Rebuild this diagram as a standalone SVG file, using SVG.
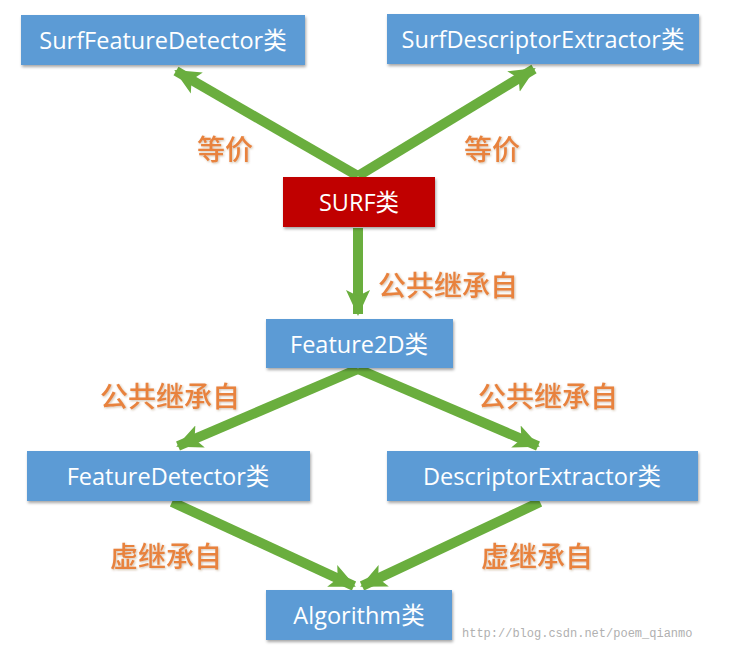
<svg xmlns="http://www.w3.org/2000/svg" width="734" height="664" viewBox="0 0 734 664">
<style>
.box{fill:#5B9BD5;filter:url(#sh)}
.red{fill:#C00000;filter:url(#sh)}
.nt{font-family:"Open Sans","Noto Sans CJK SC",sans-serif;font-size:23.5px;fill:#ffffff;text-anchor:middle;dominant-baseline:central}
.lb{font-family:"Noto Sans CJK SC",sans-serif;font-size:28px;font-weight:500;fill:#E8823E;text-anchor:middle;dominant-baseline:central;filter:url(#ts)}
.ar{stroke:#6AAE3E;stroke-width:10;fill:none;marker-end:url(#ah)}
.wm{font-family:"Liberation Mono",monospace;font-size:12px;fill:#b0b0b0}
</style>
<defs>
<filter id="sh" x="-10%" y="-20%" width="120%" height="150%"><feDropShadow dx="1" dy="2" stdDeviation="1.5" flood-color="#000" flood-opacity="0.35"/></filter>
<filter id="ts" x="-10%" y="-20%" width="120%" height="150%"><feDropShadow dx="1" dy="1" stdDeviation="1" flood-color="#7a4a20" flood-opacity="0.35"/></filter>
<marker id="ah" markerUnits="userSpaceOnUse" markerWidth="30" markerHeight="30" viewBox="0 0 30 30" refX="24" refY="15" orient="auto"><path d="M0,3 L26,15 L0,27 L6,15 Z" fill="#6AAE3E"/></marker>
</defs>
<g id="connectors">
<line class="ar" x1="358" y1="176" x2="176" y2="71"/>
<line class="ar" x1="358" y1="176" x2="534" y2="69"/>
<line class="ar" x1="358" y1="228" x2="358" y2="314"/>
<line class="ar" x1="358" y1="369" x2="178" y2="446"/>
<line class="ar" x1="358" y1="369" x2="538" y2="446"/>
<line class="ar" x1="172" y1="502" x2="354" y2="586"/>
<line class="ar" x1="540" y1="502" x2="362" y2="586"/>
</g>
<g id="n-surffd"><rect class="box" x="21" y="15" width="284" height="50"/><text class="nt" x="163" y="40">SurfFeatureDetector类</text></g>
<g id="n-surfde"><rect class="box" x="387" y="14" width="312" height="50"/><text class="nt" x="543" y="39">SurfDescriptorExtractor类</text></g>
<g id="n-surf"><rect class="red" x="283" y="177" width="152" height="50"/><text class="nt" x="359" y="202">SURF类</text></g>
<g id="n-f2d"><rect class="box" x="266" y="319" width="187" height="49"/><text class="nt" x="359" y="344">Feature2D类</text></g>
<g id="n-fd"><rect class="box" x="27" y="451" width="283" height="50"/><text class="nt" x="168" y="476">FeatureDetector类</text></g>
<g id="n-de"><rect class="box" x="387" y="451" width="311" height="50"/><text class="nt" x="542" y="476">DescriptorExtractor类</text></g>
<g id="n-alg"><rect class="box" x="266" y="590" width="186" height="50"/><text class="nt" x="359" y="615">Algorithm类</text></g>
<g id="labels">
<text class="lb" x="225" y="148">等价</text>
<text class="lb" x="492" y="148">等价</text>
<text class="lb" x="448" y="284">公共继承自</text>
<text class="lb" x="170" y="395">公共继承自</text>
<text class="lb" x="548" y="395">公共继承自</text>
<text class="lb" x="166" y="555">虚继承自</text>
<text class="lb" x="537" y="555">虚继承自</text>
<text class="wm" x="462" y="637">http://blog.csdn.net/poem_qianmo</text>
</g>
</svg>
